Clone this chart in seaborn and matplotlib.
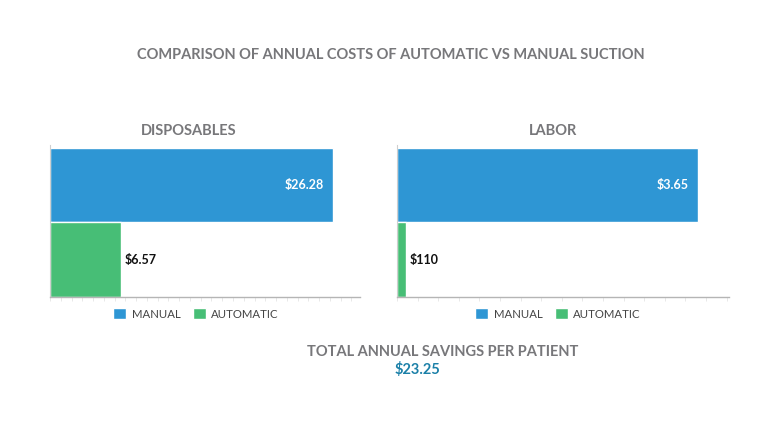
import matplotlib
matplotlib.use("Agg")
import matplotlib.pyplot as plt
import seaborn as sns
import pandas as pd
import numpy as np

# ---- data ----
categories = ["MANUAL", "AUTOMATIC"]
disposables_values = [26.28, 6.57]
disposables_labels = ["$26.28", "$6.57"]
labor_values = [3650, 110]
labor_labels = ["$3.65", "$110"]
main_title = "COMPARISON OF ANNUAL COSTS OF AUTOMATIC VS MANUAL SUCTION"
panel_titles = ["DISPOSABLES", "LABOR"]
savings_title = "TOTAL ANNUAL SAVINGS PER PATIENT"
savings_value = "$23.25"

BLUE = "#2e96d4"
GREEN = "#47be76"
GRAY = "#77777a"
palette = {categories[0]: BLUE, categories[1]: GREEN}

sns.set_theme(style="white")
plt.rcParams["font.family"] = ["Lato", "DejaVu Sans"]

fig = plt.figure(figsize=(7.68, 4.22), dpi=100)
W, H = 768, 422

def axes_px(x0, x1, y0, y1):
    return fig.add_axes([x0 / W, 1 - y1 / H, (x1 - x0) / W, (y1 - y0) / H])

ax1 = axes_px(50, 360, 145, 297)
ax2 = axes_px(397, 729, 145, 297)

panels = [
    (ax1, disposables_values, disposables_labels, 28.8, 1.0, 196),
    (ax2, labor_values, labor_labels, 4030, 250, 558),
]

for ax, vals, labels, xmax, tickstep, legx in panels:
    df = pd.DataFrame({"category": categories, "value": vals})
    sns.barplot(data=df, y="category", x="value", hue="category",
                palette=palette, orient="h", width=1.0, dodge=False,
                saturation=1, ax=ax, legend=True,
                edgecolor="white", linewidth=1.0)
    ax.set_xlim(0, xmax)
    ax.set_ylim(1.50, -0.537)
    ax.set_xlabel("")
    ax.set_ylabel("")
    ax.set_yticks([])
    ax.set_xticks(np.arange(0, xmax, tickstep))
    ax.set_xticklabels([])
    ax.tick_params(axis="x", direction="out", length=3, width=0.6,
                   color="#e4e4e4", bottom=True)
    for s in ["top", "right"]:
        ax.spines[s].set_visible(False)
    ax.spines["left"].set_color("#cfcfcf")
    ax.spines["left"].set_linewidth(0.8)
    ax.spines["bottom"].set_color("#b5b5b5")
    ax.spines["bottom"].set_linewidth(1.0)
    # value labels
    ax.text(vals[0] - xmax * 0.028, 0, labels[0], ha="right", va="center",
            color="white", fontsize=9, fontweight="bold")
    ax.text(vals[1] + xmax * 0.012, 1, labels[1], ha="left", va="center",
            color="#111111", fontsize=9, fontweight="bold")
    # legend
    pos = ax.get_position()
    sns.move_legend(ax, "upper center",
                    bbox_to_anchor=((legx / W - pos.x0) / pos.width, -0.005),
                    ncol=2, frameon=False, title=None, fontsize=8.2,
                    handlelength=1.15, handleheight=1.15, handletextpad=0.5,
                    columnspacing=1.05, labelcolor="#444444")

fig.text(391 / W, 1 - 55 / H, main_title, ha="center", va="center",
         color=GRAY, fontsize=10.5, fontweight="bold")
fig.text(189 / W, 1 - 131 / H, panel_titles[0], ha="center", va="center",
         color=GRAY, fontsize=10.5, fontweight="bold")
fig.text(553 / W, 1 - 131 / H, panel_titles[1], ha="center", va="center",
         color=GRAY, fontsize=10.5, fontweight="bold")
fig.text(443 / W, 1 - 352 / H, savings_title, ha="center", va="center",
         color=GRAY, fontsize=10.5, fontweight="bold")
fig.text(417 / W, 1 - 369 / H, savings_value, ha="center", va="center",
         color="#1b80a8", fontsize=10.5, fontweight="bold")

fig.savefig("out.png", dpi=100)
